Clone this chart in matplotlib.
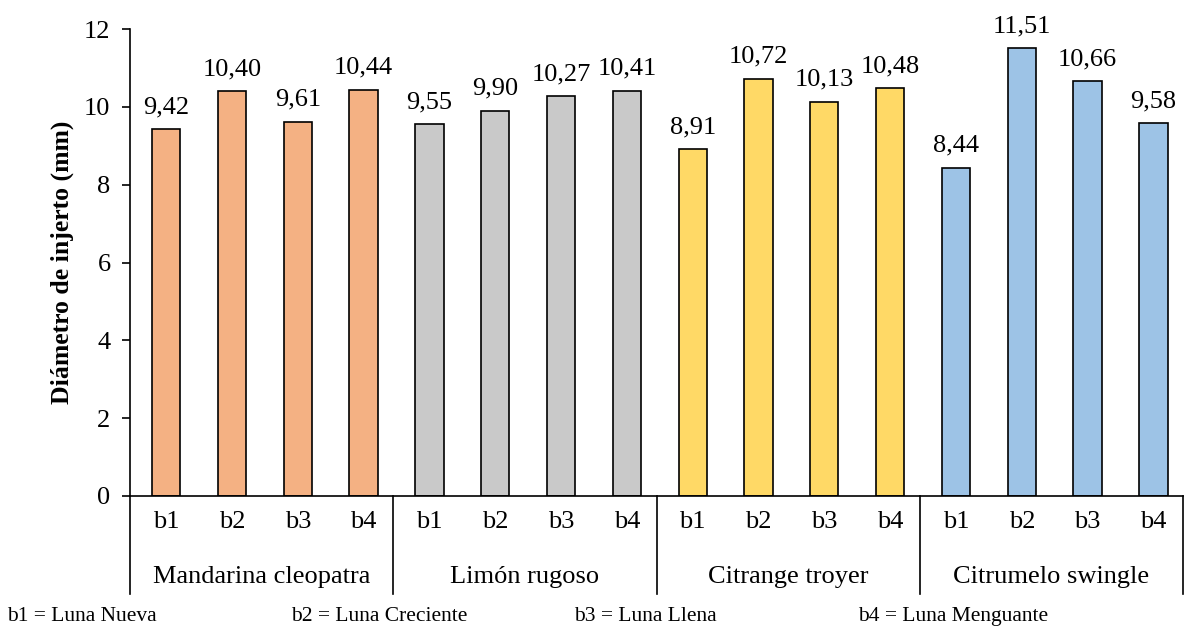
import numpy as np
import matplotlib.pyplot as plt
import matplotlib.transforms as mtransforms

plt.rcParams['font.family'] = ['Liberation Serif', 'DejaVu Serif']

# Data
groups = ['Mandarina cleopatra', 'Limón rugoso', 'Citrange troyer', 'Citrumelo swingle']
phases = ['b1', 'b2', 'b3', 'b4']
mandarina = [9.42, 10.40, 9.61, 10.44]
limon = [9.55, 9.90, 10.27, 10.41]
citrange = [8.91, 10.72, 10.13, 10.48]
citrumelo = [8.44, 11.51, 10.66, 9.58]
colors = ['#F4B183', '#C9C9C9', '#FFD966', '#9DC3E6']
legend_items = ['b1 = Luna Nueva', 'b2 = Luna Creciente', 'b3 = Luna Llena', 'b4 = Luna Menguante']

series = [mandarina, limon, citrange, citrumelo]

fig = plt.figure(figsize=(11.89, 6.28), dpi=100)
ax = fig.add_axes([0.1093, 0.2102, 0.8857, 0.7436])

n = len(phases)
for g, (vals, col) in enumerate(zip(series, colors)):
    x = np.arange(n) + g * n + 0.05
    bars = ax.bar(x, vals, width=0.43, color=col, edgecolor='black', linewidth=1.2)
    ax.bar_label(bars, labels=[f'{v:.2f}'.replace('.', ',') for v in vals],
                 padding=8, fontsize=19)

ax.set_xlim(-0.5, len(groups) * n - 0.5)
ax.set_ylim(0, 12)
ax.set_yticks(np.arange(0, 13, 2))
ax.tick_params(axis='y', labelsize=19, direction='out', length=6, width=1.2, pad=8)
ax.set_xticks(np.arange(len(groups) * n) + 0.05)
ax.set_xticklabels(phases * len(groups), fontsize=19)
ax.tick_params(axis='x', length=0, pad=11)
ax.set_ylabel('Diámetro de injerto (mm)', fontsize=18.5, fontweight='bold', labelpad=7)

for s in ['top', 'right']:
    ax.spines[s].set_visible(False)
ax.spines['left'].set_linewidth(1.2)
ax.spines['bottom'].set_linewidth(1.2)

# group separators and labels
trans = mtransforms.blended_transform_factory(ax.transData, ax.transAxes)
for g in range(len(groups) + 1):
    xs = g * n - 0.5
    ax.plot([xs, xs], [0, -0.21], color='black', linewidth=1.2,
            transform=trans, clip_on=False)
for g, name in enumerate(groups):
    ax.text(g * n + (n - 1) / 2, -0.173, name, transform=trans,
            ha='center', va='center', fontsize=19)

# legend text at bottom
for i, txt in enumerate(legend_items):
    fig.text(0.006 + i * 0.2385, 0.018, txt, ha='left', va='center', fontsize=15.5)

fig.savefig('out.png', dpi=100)
